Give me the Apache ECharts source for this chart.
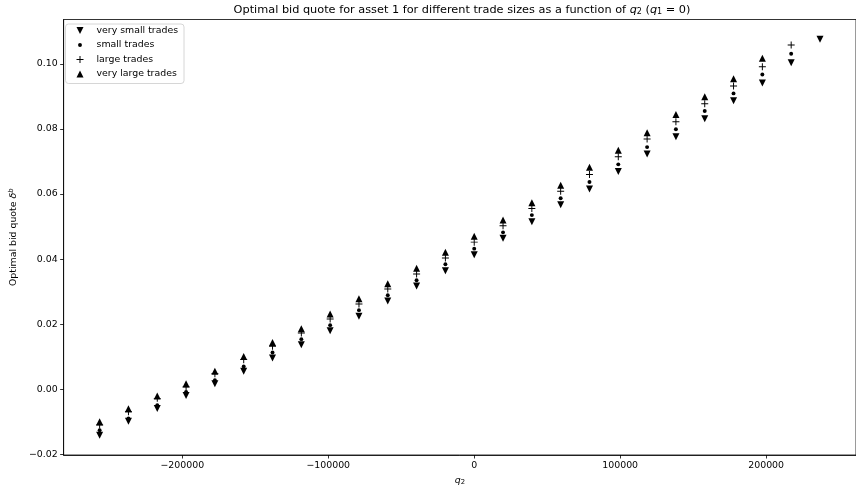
<!DOCTYPE html>
<html>
<head>
<meta charset="utf-8">
<script src="https://cdn.jsdelivr.net/npm/echarts@6/dist/echarts.min.js"></script>
<style>
html,body{margin:0;padding:0;background:#fff;}
#chart{width:856px;height:491px;}
</style>
</head>
<body>
<div id="chart"></div>
<script>
// q2 positions of the quote columns
const q2 = [-256620, -236880, -217140, -197400, -177660, -157920, -138180, -118440, -98700, -78960,
  -59220, -39480, -19740, 0, 19740, 39480, 59220, 78960, 98700, 118440,
  138180, 157920, 177660, 197400, 217140, 236880];

const verySmallTrades = [-0.0141, -0.0098, -0.0059, -0.0019, 0.0017, 0.0055, 0.0096, 0.0137, 0.0180, 0.0224,
  0.0271, 0.0317, 0.0364, 0.0413, 0.0464, 0.0515, 0.0567, 0.0615, 0.0669, 0.0723,
  0.0776, 0.0831, 0.0886, 0.0941, 0.1003, 0.1075];
const smallTrades = [-0.0126, -0.0090, -0.0049, -0.0008, 0.0028, 0.0070, 0.0113, 0.0154, 0.0197, 0.0243,
  0.0289, 0.0335, 0.0384, 0.0432, 0.0482, 0.0535, 0.0587, 0.0637, 0.0691, 0.0744,
  0.0799, 0.0855, 0.0909, 0.0967, 0.1031, null];
const largeTrades = [-0.0110, -0.0069, -0.0028, 0.0007, 0.0048, 0.0091, 0.0132, 0.0173, 0.0216, 0.0262,
  0.0308, 0.0354, 0.0403, 0.0452, 0.0502, 0.0555, 0.0608, 0.0660, 0.0714, 0.0769,
  0.0822, 0.0877, 0.0932, 0.0991, 0.1058, null];
const veryLargeTrades = [-0.0100, -0.0060, -0.0021, 0.0017, 0.0055, 0.0101, 0.0144, 0.0186, 0.0231, 0.0278,
  0.0324, 0.0372, 0.0421, 0.0470, 0.0520, 0.0573, 0.0627, 0.0682, 0.0734, 0.0788,
  0.0844, 0.0899, 0.0954, 0.1017, null, null];

const seriesNames = ['very small trades', 'small trades', 'large trades', 'very large trades'];
const xTicks = [-200000, -100000, 0, 100000, 200000];
const yTicks = [-0.02, 0.00, 0.02, 0.04, 0.06, 0.08, 0.10];

const SYM_DOWN = 'path://M0,0 L10,0 L5,10 Z';
const SYM_UP = 'path://M5,0 L10,10 L0,10 Z';
const SYM_DOT = 'path://M0,0 M10,10 M5,2.2 A2.8,2.8 0 1 1 5,7.8 A2.8,2.8 0 1 1 5,2.2 Z';
const SYM_PLUS = 'path://M0,0 M10,10 M4.3,0 L5.7,0 L5.7,4.3 L10,4.3 L10,5.7 L5.7,5.7 L5.7,10 L4.3,10 L4.3,5.7 L0,5.7 L0,4.3 L4.3,4.3 Z';
const symbols = [SYM_DOWN, SYM_DOT, SYM_PLUS, SYM_UP];
const values = [verySmallTrades, smallTrades, largeTrades, veryLargeTrades];

const FONT = 'DejaVu Sans';
const minus = s => s.replace('-', '\u2212');

function pts(vals) {
  const out = [];
  vals.forEach((v, i) => { if (v !== null) out.push([q2[i], v]); });
  return out;
}

const chart = echarts.init(document.getElementById('chart'), null, {renderer: 'canvas'});
chart.setOption({
  backgroundColor: '#fff',
  animation: false,
  title: {
    text: 'Optimal bid quote for asset 1 for different trade sizes as a function of {i|q}{s|2} ({i|q}{s|1} = 0)',
    left: 457, top: -1, textAlign: 'center',
    textStyle: {
      fontFamily: FONT, fontSize: 11.3, fontWeight: 'normal', color: '#000',
      rich: {
        i: {fontFamily: FONT, fontSize: 11.3, fontStyle: 'italic', color: '#000'},
        s: {fontFamily: FONT, fontSize: 8, color: '#000', verticalAlign: 'bottom', padding: [4, 0, 0, 0]}
      }
    }
  },
  legend: {
    orient: 'vertical',
    left: 65.5, top: 24,
    padding: [1, 6, 4, 11],
    itemWidth: 7, itemHeight: 7, itemGap: 3.5,
    backgroundColor: 'rgba(255,255,255,0.8)',
    borderColor: '#ccc', borderWidth: 0.8, borderRadius: 3,
    textStyle: {fontFamily: FONT, fontSize: 9.4, color: '#000', lineHeight: 11, padding: [0, 0, 0, 8]},
    data: seriesNames.map((n, i) => ({name: n, icon: symbols[i]}))
  },
  grid: {
    left: 60.7, top: 19.5, width: 797.9, height: 436.2,
    show: true, borderColor: '#000', borderWidth: 0.8, backgroundColor: '#fff'
  },
  xAxis: {
    type: 'value', min: -281295, max: 261555,
    name: '{i|q}{s|2}', nameLocation: 'middle', nameGap: 21,
    nameTextStyle: {
      fontFamily: FONT, fontSize: 9.4, color: '#000',
      rich: {
        i: {fontFamily: FONT, fontSize: 9.4, fontStyle: 'italic', color: '#000'},
        s: {fontFamily: FONT, fontSize: 6.8, color: '#000', verticalAlign: 'bottom', padding: [3, 0, 0, 0]}
      }
    },
    splitLine: {show: false},
    axisLine: {show: true, onZero: false, lineStyle: {color: '#000', width: 0.8}},
    axisTick: {show: true, inside: false, length: 3.5, lineStyle: {color: '#000', width: 0.8}, customValues: xTicks},
    axisLabel: {show: true, margin: 6, fontFamily: FONT, fontSize: 9.4, color: '#000', customValues: xTicks,
      formatter: v => minus(String(v))}
  },
  yAxis: {
    type: 'value', min: -0.0202, max: 0.1136,
    name: 'Optimal bid quote {i|δ}{sup|b}', nameLocation: 'middle', nameGap: 40, nameRotate: 90,
    nameTextStyle: {
      fontFamily: FONT, fontSize: 9.4, color: '#000',
      rich: {
        i: {fontFamily: FONT, fontSize: 9.4, fontStyle: 'italic', color: '#000'},
        sup: {fontFamily: FONT, fontSize: 6.8, fontStyle: 'italic', color: '#000', verticalAlign: 'top', padding: [0, 0, 4, 0]}
      }
    },
    splitLine: {show: false},
    axisLine: {show: true, onZero: false, lineStyle: {color: '#000', width: 0.8}},
    axisTick: {show: true, inside: false, length: 3.5, lineStyle: {color: '#000', width: 0.8}, customValues: yTicks},
    axisLabel: {show: true, margin: 6, fontFamily: FONT, fontSize: 9.4, color: '#000', customValues: yTicks,
      formatter: v => minus(Number(v).toFixed(2))}
  },
  series: seriesNames.map((n, i) => ({
    name: n,
    type: 'scatter',
    symbol: symbols[i],
    symbolSize: 7,
    symbolKeepAspect: true,
    itemStyle: {color: '#000', opacity: 1},
    emphasis: {disabled: true},
    data: pts(values[i])
  }))
});
</script>
</body>
</html>
